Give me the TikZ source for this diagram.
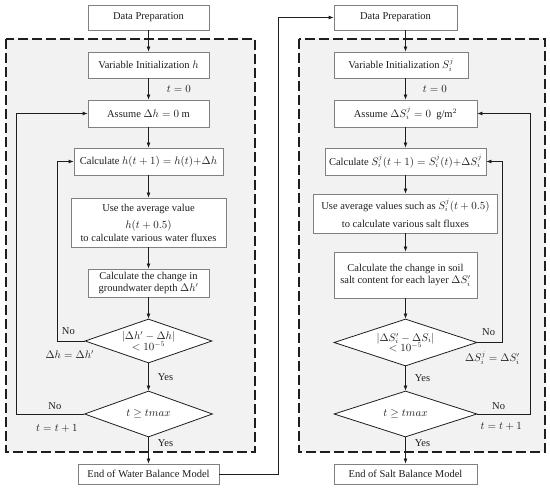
\documentclass[tikz,border=0pt]{standalone}
\usepackage{amsmath,amssymb}
\usepackage{fontspec}
\setmainfont{Liberation Serif}
\usepackage{xcolor}
\usepackage{tikz}
\usetikzlibrary{arrows.meta,shapes.geometric}
\definecolor{fcInk}{HTML}{1E1E1E}
\definecolor{fcLine}{HTML}{808080}
\definecolor{fcShade}{HTML}{F2F2F2}
\tikzset{
  fc diagram/.style={font=\fontsize{10.5}{12.5}\selectfont, text=fcInk},
  fc box/.style={draw=fcLine, fill=white, line width=0.8pt,
    align=center, inner sep=2pt},
  fc decision/.style={diamond, aspect=3, draw=fcInk, fill=white,
    line width=0.8pt, align=center, inner sep=0pt},
  fc arrow/.style={-{Latex[length=5pt,width=4pt]}, draw=fcInk, line width=0.8pt},
  fc label/.style={inner sep=1pt},
  fc frame/.style={draw=fcInk, fill=fcShade, line width=1.4pt,
    dash pattern=on 10pt off 4pt}
}

\begin{document}
\begin{tikzpicture}[fc diagram, x=1pt, y=-1pt]
\useasboundingbox (0,0) rectangle (550,497);
\draw[fc frame] (6,39) rectangle (255,452);
\draw[fc frame] (299,39) rectangle (545,452);
\node[fc box,minimum width=121pt,minimum height=25pt] (wdata) at (148.5,17.5) {Data Preparation};
\node[fc box,minimum width=121pt,minimum height=26pt] (winit) at (148.5,65) {Variable Initialization $h$};
\node[fc box,minimum width=121pt,minimum height=27pt] (wassume) at (148.5,113.5) {Assume $\Delta h = 0$ m};
\node[fc box,minimum width=149pt,minimum height=27pt] (wcalc) at (148.5,161.5) {Calculate $h(t+1) = h(t){+}\Delta h$};
\node[fc box,minimum width=155pt,minimum height=49pt] (wavg) at (148.5,222.5) {Use the average value\\[5pt] $h(t+0.5)$\\ to calculate various water fluxes};
\node[fc box,minimum width=121pt,minimum height=28pt] (wchange) at (148.5,283) {Calculate the change in\\ groundwater depth $\Delta h'$};
\node[fc decision,minimum width=127pt,minimum height=44pt] (wd1) at (148.5,341) {$|\Delta h' - \Delta h|$\\[-2pt] $< 10^{-5}$};
\node[fc decision,minimum width=128pt,minimum height=46pt] (wd2) at (148.5,414) {$t \geq tmax$};
\node[fc box,minimum width=141pt,minimum height=20pt] (wend) at (148.5,474) {End of Water Balance Model};
\node[fc box,minimum width=123pt,minimum height=25pt] (sdata) at (395.5,17.5) {Data Preparation};
\node[fc box,minimum width=134pt,minimum height=26pt] (sinit) at (401,65) {Variable Initialization $S_i^j$};
\node[fc box,minimum width=143pt,minimum height=27pt] (sassume) at (405.5,113.5) {Assume $\Delta S_i^j = 0$~~g/m$^2$};
\node[fc box,minimum width=161pt,minimum height=27pt] (scalc) at (405.5,161.5) {Calculate $S_i^j(t+1) = S_i^j(t){+}\Delta S_i^j$};
\node[fc box,minimum width=184pt,minimum height=39pt] (savg) at (405.5,213.5) {Use average values such as $S_i^j(t+0.5)$\\[6pt] to calculate various salt fluxes};
\node[fc box,minimum width=143pt,minimum height=46pt] (schange) at (405.5,275) {Calculate the change in soil\\ salt content for each layer $\Delta S_i'$};
\node[fc decision,minimum width=143pt,minimum height=47pt] (sd1) at (405.5,342.5) {$|\Delta S_i' - \Delta S_i|$\\[-2pt] $< 10^{-5}$};
\node[fc decision,minimum width=143pt,minimum height=46pt] (sd2) at (405.5,414) {$t \geq tmax$};
\node[fc box,minimum width=143pt,minimum height=20pt] (send) at (405.5,474) {End of Salt Balance Model};
\draw[fc arrow] (wdata) -- (winit);
\draw[fc arrow] (winit) -- node[fc label,right=17pt] {$t = 0$} (wassume);
\draw[fc arrow] (wassume) -- (wcalc);
\draw[fc arrow] (wcalc) -- (wavg);
\draw[fc arrow] (wavg) -- (wchange);
\draw[fc arrow] (wchange) -- (wd1);
\draw[fc arrow] (wd1) -- node[fc label,right=8pt] {Yes} (wd2);
\draw[fc arrow] (wd2) -- node[fc label,pos=0.2,right=8pt] {Yes} (wend);
\draw[fc arrow] (wd1.west) -- ++(-27,0) node[fc label,pos=0.6,above=5pt] {No}
  node[fc label,pos=0.55,below=8pt] {$\Delta h = \Delta h'$} |- (wcalc.west);
\draw[fc arrow] (wd2.west) -- ++(-68,0) node[fc label,pos=0.43,above=3pt] {No}
  node[fc label,pos=0.4,below=9pt] {$t = t + 1$} |- (wassume.west);
\draw[fc arrow] (wend.east) -- ++(59,0) |- (sdata.west);
\draw[fc arrow] (sdata.south -| sassume) -- (sinit.north -| sassume);
\draw[fc arrow] (sinit.south -| sassume) -- node[fc label,right=16pt] {$t = 0$} (sassume);
\draw[fc arrow] (sassume) -- (scalc);
\draw[fc arrow] (scalc) -- (savg);
\draw[fc arrow] (savg) -- (schange);
\draw[fc arrow] (schange) -- (sd1);
\draw[fc arrow] (sd1) -- node[fc label,right=8pt] {Yes} (sd2);
\draw[fc arrow] (sd2) -- node[fc label,pos=0.2,right=8pt] {Yes} (send);
\draw[fc arrow] (sd1.east) -- ++(25,0) node[fc label,pos=0.45,above=5pt] {No}
  node[fc label,pos=0.6,below=8pt] {$\Delta S_i^j = \Delta S_i'$} |- (scalc.east);
\draw[fc arrow] (sd2.east) -- ++(53,0) node[fc label,pos=0.4,above=3pt] {No}
  node[fc label,pos=0.45,below=7pt] {$t = t + 1$} |- (sassume.east);
\end{tikzpicture}
\end{document}
